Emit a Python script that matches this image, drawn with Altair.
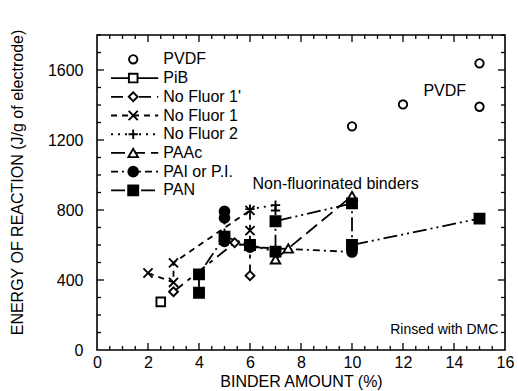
import altair as alt
import pandas as pd

FONT = "Liberation Sans"

series_names = ["PVDF", "PiB", "No Fluor 1'", "No Fluor 1", "No Fluor 2", "PAAc", "PAI or P.I.", "PAN"]

pvdf_x = [10, 12, 15, 15]
pvdf_y = [1278, 1403, 1638, 1390]
pib_x = [2.5]
pib_y = [275]
nf1p_x = [3, 5.4, 6, 6]
nf1p_y = [333, 613, 590, 425]
nf1_x = [2, 3, 3, 6, 6, 6]
nf1_y = [440, 386, 498, 798, 682, 595]
nf2_x = [6, 7, 7]
nf2_y = [805, 828, 797]
paac_x = [7, 7.5, 10]
paac_y = [518, 580, 880]
pai_x = [5, 5, 5, 6, 10]
pai_y = [792, 755, 621, 588, 560]
pan_x = [4, 4, 5, 6, 7, 7, 10, 10, 15]
pan_y = [327, 432, 648, 600, 562, 736, 838, 600, 751]

x_major = [0, 2, 4, 6, 8, 10, 12, 14, 16]
y_major = [0, 400, 800, 1200, 1600]

all_xy = [(pvdf_x, pvdf_y), (pib_x, pib_y), (nf1p_x, nf1p_y), (nf1_x, nf1_y),
          (nf2_x, nf2_y), (paac_x, paac_y), (pai_x, pai_y), (pan_x, pan_y)]

rows = []
for name, (xs_, ys_) in zip(series_names, all_xy):
    for i, (xv, yv) in enumerate(zip(xs_, ys_)):
        rows.append({"series": name, "x": xv, "y": yv, "seq": i})
df = pd.DataFrame(rows)
df_lines = df[df["series"] != "PVDF"]

# legend table
leg = pd.DataFrame({"series": series_names})
leg["y"] = [1661 - i * 107 for i in range(len(series_names))]
leg["x0"] = 0.55
leg["x1"] = 2.4
leg["xm"] = 1.42
leg["xt"] = 2.6
leg_lines = leg[leg["series"] != "PVDF"]

X_PATH = "M-1,-1L1,1M1,-1L-1,1"
P_PATH = "M-1,0L1,0M0,-1L0,1"
shape_range = ["circle", "square", "diamond", X_PATH, P_PATH, "triangle-up", "circle", "square"]
fill_range = ["white", "white", "white", "transparent", "transparent", "white", "black", "black"]
size_range = [70, 100, 75, 90, 110, 100, 95, 115]
line_names = series_names[1:]
dash_range = [[1, 0], [12, 6, 4, 6], [6, 5], [2, 5], [14, 6], [7, 4, 2, 4], [14, 4, 2, 4, 2, 4]]

xs = alt.Scale(domain=[0, 16], nice=False, zero=False)
ys = alt.Scale(domain=[0, 1800], nice=False, zero=False)

shape_enc = alt.Shape("series:N", scale=alt.Scale(domain=series_names, range=shape_range), legend=None)
fill_enc = alt.Fill("series:N", scale=alt.Scale(domain=series_names, range=fill_range), legend=None)
size_enc = alt.Size("series:N", scale=alt.Scale(domain=series_names, range=size_range), legend=None)
dash_enc = alt.StrokeDash("series:N", scale=alt.Scale(domain=line_names, range=dash_range), legend=None)

X = alt.X("x:Q", scale=xs, axis=alt.Axis(values=x_major, title="BINDER AMOUNT (%)", ticks=False, domain=False,
                                        grid=False, labelFontSize=16, labelFont=FONT, labelPadding=4,
                                        titleFont=FONT, titleFontSize=16, titleFontWeight="normal",
                                        titlePadding=3, labelColor="black", titleColor="black",
                                        labelFlush=False, format="d"))
Y = alt.Y("y:Q", scale=ys, axis=alt.Axis(values=y_major, title="ENERGY OF REACTION (J/g of electrode)",
                                        ticks=False, domain=False, grid=False, labelFontSize=16,
                                        labelFont=FONT, labelPadding=14, titleFont=FONT, titleFontSize=16,
                                        titleFontWeight="normal", titleX=-80, titleY=147,
                                        titleBaseline="middle", titleAngle=270, labelColor="black",
                                        titleColor="black", labelFlush=False, format="d"))

lines = alt.Chart(df_lines).mark_line(color="black", strokeWidth=1.8).encode(
    x=X, y=Y, detail="series:N", order="seq:Q", strokeDash=dash_enc)

points = alt.Chart(df).mark_point(filled=False, stroke="black", strokeWidth=1.9, opacity=1).encode(
    x=alt.X("x:Q", scale=xs), y=alt.Y("y:Q", scale=ys), shape=shape_enc, fill=fill_enc, size=size_enc)

leg_rule = alt.Chart(leg_lines).mark_rule(color="black", strokeWidth=1.8).encode(
    x=alt.X("x0:Q", scale=xs), x2="x1:Q", y=alt.Y("y:Q", scale=ys), strokeDash=dash_enc)

leg_pts = alt.Chart(leg).mark_point(filled=False, stroke="black", strokeWidth=1.9, opacity=1).encode(
    x=alt.X("xm:Q", scale=xs), y=alt.Y("y:Q", scale=ys), shape=shape_enc, fill=fill_enc, size=size_enc)

leg_txt = alt.Chart(leg).mark_text(align="left", baseline="middle", font=FONT, fontSize=16, color="black").encode(
    x=alt.X("xt:Q", scale=xs), y=alt.Y("y:Q", scale=ys), text="series:N")

notes = pd.DataFrame({
    "label": ["Non-fluorinated binders", "PVDF", "Rinsed with DMC"],
    "x": [6.1, 12.8, 15.74],
    "y": [918, 1451, 90],
    "align": ["left", "left", "right"],
    "size": [16, 16, 14],
})
note_l = alt.Chart(notes[notes["align"] == "left"]).mark_text(
    align="left", baseline="alphabetic", font=FONT, color="black").encode(
    x=alt.X("x:Q", scale=xs), y=alt.Y("y:Q", scale=ys), text="label:N",
    size=alt.Size("size:Q", scale=None, legend=None))
note_r = alt.Chart(notes[notes["align"] == "right"]).mark_text(
    align="right", baseline="alphabetic", font=FONT, color="black").encode(
    x=alt.X("x:Q", scale=xs), y=alt.Y("y:Q", scale=ys), text="label:N",
    size=alt.Size("size:Q", scale=None, legend=None))

# inward ticks on all four sides
x_minor = [v / 2 for v in range(1, 32) if v % 4 != 0]
y_minor = [v * 100 for v in range(1, 19) if v % 4 != 0]
H, W = 315, 408
tx_maj = pd.DataFrame({"v": x_major[1:-1]})
tx_min = pd.DataFrame({"v": x_minor})
ty_maj = pd.DataFrame({"v": y_major[1:]})
ty_min = pd.DataFrame({"v": y_minor})

def xticks(d, L):
    b = alt.Chart(d).mark_rule(color="black", strokeWidth=1.3).encode(
        x=alt.X("v:Q", scale=xs), y=alt.value(H), y2=alt.value(H - L))
    t = alt.Chart(d).mark_rule(color="black", strokeWidth=1.3).encode(
        x=alt.X("v:Q", scale=xs), y=alt.value(0), y2=alt.value(L))
    return b + t

def yticks(d, L):
    l = alt.Chart(d).mark_rule(color="black", strokeWidth=1.3).encode(
        y=alt.Y("v:Q", scale=ys), x=alt.value(0), x2=alt.value(L))
    r = alt.Chart(d).mark_rule(color="black", strokeWidth=1.3).encode(
        y=alt.Y("v:Q", scale=ys), x=alt.value(W), x2=alt.value(W - L))
    return l + r

chart = alt.layer(
    lines, leg_rule, points, leg_pts, leg_txt, note_l, note_r,
    xticks(tx_maj, 7), xticks(tx_min, 4), yticks(ty_maj, 7), yticks(ty_min, 4)
).properties(
    width=W, height=H,
    autosize=alt.AutoSizeParams(type="none"),
    padding={"left": 97, "top": 35, "right": 13, "bottom": 41},
    background="white",
).configure_view(stroke="black", strokeWidth=1.6)

chart.save("out.html", embed_options={"renderer": "svg", "actions": False})
